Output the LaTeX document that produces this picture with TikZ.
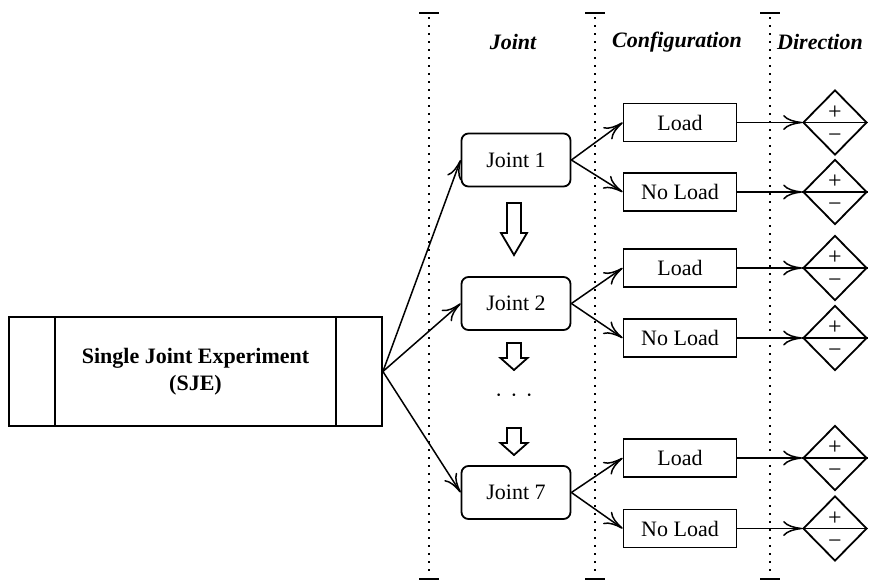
\documentclass[tikz,border=0pt]{standalone}
\usepackage{fontspec}
\setmainfont{Liberation Serif}
\usetikzlibrary{shapes.geometric,arrows.meta}
\begin{document}
\begin{tikzpicture}[x=0.5pt,y=-0.5pt,
  font=\fontsize{11}{13.5}\selectfont,
  box/.style={draw,line width=0.9pt,inner sep=0pt},
  jointbox/.style={box,rounded corners=3.5pt,minimum width=54.5pt,minimum height=26.5pt},
  cfgbox/.style={box,minimum width=56.5pt,minimum height=19pt},
  dirbox/.style={draw,line width=0.9pt,shape=diamond,inner sep=0pt,minimum width=32pt,minimum height=32.5pt},
  sign/.style={inner sep=0pt,anchor=base,font=\fontsize{12}{14}\selectfont},
  link/.style={line width=0.75pt,-{To[length=9.5pt,width=7.5pt]}},
  sep/.style={line width=0.9pt,dash pattern=on 0.9pt off 3.1pt},
  bar/.style={line width=1pt},
  hollow/.style={draw,line width=0.9pt,fill=white},
  head/.style={font=\fontsize{11}{13.5}\selectfont\bfseries\itshape}
]
\useasboundingbox (0,0) rectangle (879,580);

% column separators
\foreach \x in {429,595,770} {
  \draw[sep] (\x,17) -- (\x,576);
  \draw[bar] (\x-10,13) -- (\x+10,13);
  \draw[bar] (\x-10,579) -- (\x+10,579);
}

% column headings
\node[head] (hjoint) at (513,42) {Joint};
\node[head] (hcfg) at (677,42) {Configuration};
\node[head] (hdir) at (820,42) {Direction};

% experiment block
\node[box,minimum width=186.5pt,minimum height=54.5pt,align=center,font=\fontsize{11}{13.5}\selectfont\bfseries]
  (sje) at (195.5,371.5) {Single Joint Experiment\\(SJE)};
\draw[line width=0.9pt] ([xshift=23.5pt]sje.north west) -- ([xshift=23.5pt]sje.south west);
\draw[line width=0.9pt] ([xshift=-23.5pt]sje.north east) -- ([xshift=-23.5pt]sje.south east);

% joints
\foreach \j/\y in {1/160, 2/303.5, 7/492.5}
  \node[jointbox] (j\j) at (516,\y) {Joint \j};

% configurations
\foreach \k/\t/\y in {l1/Load/122.5, n1/No Load/192, l2/Load/268, n2/No Load/338, l7/Load/458, n7/No Load/528.5}
  \node[cfgbox] (\k) at (680,\y) {\t};

% directions: diamond split in two, + above and - below
\foreach \k/\y in {l1/122.5, n1/192, l2/268, n2/338, l7/458, n7/528.5} {
  \node[dirbox] (d\k) at (835,\y) {};
  \draw[line width=0.9pt] (d\k.west) -- (d\k.east);
  \node[sign] (p\k) at (835,\y-3.5) {+};
  \node[sign] (m\k) at (835,\y+19.5) {−};
  \draw[link] (\k.east) -- (d\k.west);
}

% connectors
\foreach \j in {1,2,7}
  \draw[link] (sje.east) -- (j\j.west);
\foreach \j/\a/\b in {1/l1/n1, 2/l2/n2, 7/l7/n7} {
  \draw[link] (j\j.east) -- (\a.west);
  \draw[link] (j\j.east) -- (\b.west);
}

% sequence arrows between joints
\draw[hollow] (507,203) -- (507,233) -- (501,233) -- (514,255) -- (527,233) -- (521,233) -- (521,203) -- cycle;
\draw[hollow] (507,343) -- (507,358) -- (500.5,358) -- (514,370) -- (527.5,358) -- (521,358) -- (521,343) -- cycle;
\draw[hollow] (507,428) -- (507,443) -- (500.5,443) -- (514,455) -- (527.5,443) -- (521,443) -- (521,428) -- cycle;
\node[anchor=base,inner sep=0pt] (dots) at (514,402) {·\hspace{4pt}·\hspace{4pt}·};
\end{tikzpicture}
\end{document}
